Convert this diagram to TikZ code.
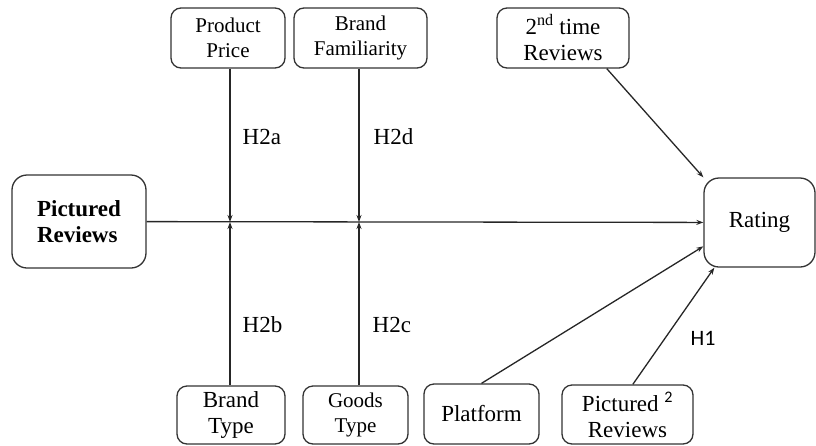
\documentclass[tikz,border=0pt]{standalone}
\usepackage{fontspec}
\setmainfont{LiberationSerif}[Extension=.ttf,UprightFont=*-Regular,BoldFont=*-Bold]
\newfontfamily\labelfont{Carlito}
\usetikzlibrary{arrows.meta}

\begin{document}
\begin{tikzpicture}[x=1pt,y=-1pt,line width=1.3pt,>={Stealth[length=7pt,width=5pt]}]
				\tikzstyle{box}=[draw=black!80,rounded corners=10pt,align=center,inner sep=0pt,
				font=\rmfamily\fontsize{23}{26}\selectfont]
				\tikzstyle{small}=[font=\rmfamily\fontsize{21}{25}\selectfont]
				\tikzstyle{hlabel}=[anchor=west,inner sep=0pt,font=\rmfamily\fontsize{23}{26}\selectfont]
				\tikzstyle{link}=[draw=black!85,->]
				\useasboundingbox (0,0) rectangle (816,445);
				% nodes
				\node[box,small,minimum width=114pt,minimum height=60pt] (price) at (228,38) {Product\\Price};
				\node[box,small,minimum width=133pt,minimum height=60pt] (famil) at (360.5,38) {Brand\\Familiarity};
				\node[box,minimum width=132pt,minimum height=60pt] (second) at (563,38) {2\textsuperscript{nd} time\\Reviews};
				\node[box,rounded corners=15pt,minimum width=134pt,minimum height=93pt,
				font=\rmfamily\fontsize{23}{26}\selectfont\bfseries,align=left] (pict) at (79,221.5) {Pictured\\Reviews};
				\node[box,rounded corners=15pt,minimum width=111pt,minimum height=89pt] (rating) at (759.5,222.5) {Rating};
				\node[box,minimum width=108pt,minimum height=58pt] (btype) at (231,415) {Brand\\Type};
				\node[box,small,minimum width=105pt,minimum height=58pt] (gtype) at (355.5,415) {Goods\\Type};
				\node[box,minimum width=115pt,minimum height=60pt] (plat) at (481.5,414) {Platform};
				\node[box,minimum width=131pt,minimum height=59pt] (pict2) at (627.5,414.5) {Pictured \textsuperscript{\labelfont 2}\\Reviews};
				% junctions on the main path
				\coordinate (j1) at (230,222);
				\coordinate (j2) at (359,222);
				% connectors
				\draw[link] (pict) -- (rating);
				\draw[link] (price.south -| j1) -- (j1);
				\draw[link] (btype.north -| j1) -- (j1);
				\draw[link] (famil.south -| j2) -- (j2);
				\draw[link] (gtype.north -| j2) -- (j2);
				\draw[link] (second.325) -- (rating.north west);
				\draw[link] (plat.north) -- (rating.203);
				\draw[link] (pict2.80) -- (rating.225);
				% labels
				\node[hlabel] (h2a) at (242,137) {H2a};
				\node[hlabel] (h2d) at (373,137) {H2d};
				\node[hlabel] (h2b) at (242,325) {H2b};
				\node[hlabel] (h2c) at (372,325) {H2c};
				\node[hlabel,font=\labelfont\fontsize{22}{25}\selectfont] (h1) at (690,338) {H1};
\end{tikzpicture}
\end{document}
